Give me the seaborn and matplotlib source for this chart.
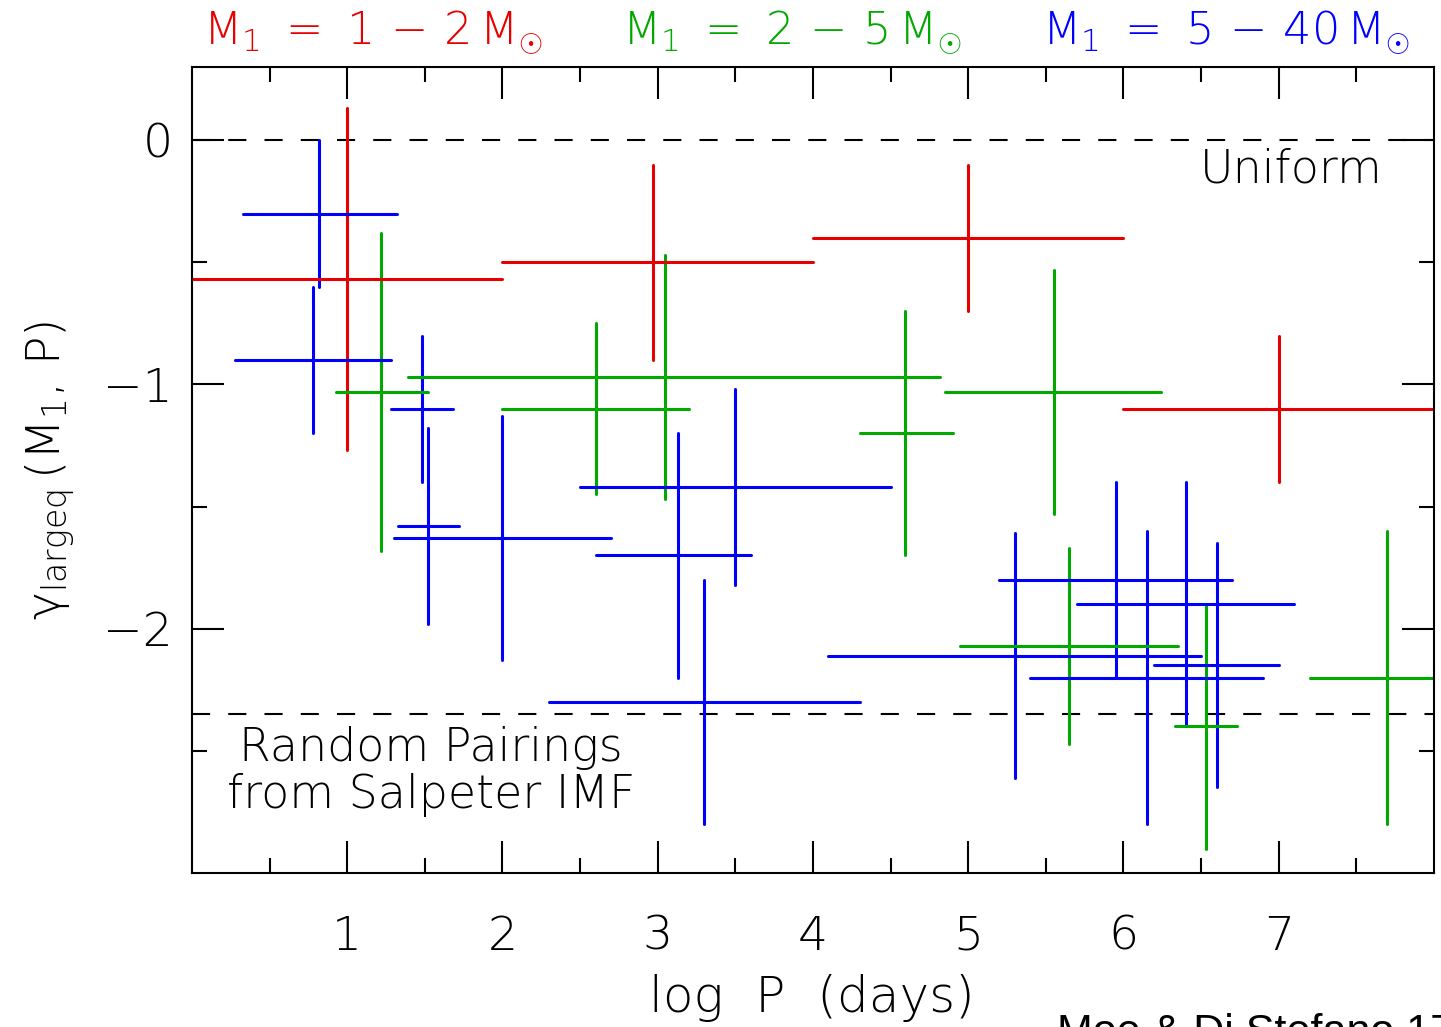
import numpy as np
import pandas as pd
import matplotlib
matplotlib.use("Agg")
import matplotlib.pyplot as plt
import seaborn as sns
import seaborn.objects as so

# ---- measurements: log P centre, bin edges, gamma and its uncertainty ----
# M1 = 1-2 Msun
red_logp = [1.00, 2.97, 5.00, 7.00]
red_logp_lo = [0.00, 2.00, 4.00, 6.00]
red_logp_hi = [2.00, 4.00, 6.00, 8.00]
red_gamma = [-0.57, -0.50, -0.40, -1.10]
red_gamma_err = [0.70, 0.40, 0.30, 0.30]

# M1 = 2-5 Msun
green_logp = [1.22, 2.60, 3.05, 4.59, 5.55, 5.65, 6.53, 7.70]
green_logp_lo = [0.93, 2.00, 1.39, 4.30, 4.85, 4.95, 6.33, 7.20]
green_logp_hi = [1.52, 3.20, 4.82, 4.90, 6.24, 6.35, 6.73, 8.00]
green_gamma = [-1.03, -1.10, -0.97, -1.20, -1.03, -2.07, -2.40, -2.20]
green_gamma_err = [0.65, 0.35, 0.50, 0.50, 0.50, 0.40, 0.50, 0.60]

# M1 = 5-40 Msun
blue_logp = [0.82, 0.78, 1.48, 1.52, 2.00, 3.13, 3.50, 3.30,
             5.30, 5.95, 6.15, 6.40, 6.60]
blue_logp_lo = [0.33, 0.28, 1.28, 1.33, 1.30, 2.60, 2.50, 2.30,
                4.10, 5.20, 5.40, 5.70, 6.20]
blue_logp_hi = [1.32, 1.28, 1.68, 1.72, 2.70, 3.60, 4.50, 4.30,
                6.50, 6.70, 6.90, 7.10, 7.00]
blue_gamma = [-0.30, -0.90, -1.10, -1.58, -1.63, -1.70, -1.42, -2.30,
              -2.11, -1.80, -2.20, -1.90, -2.15]
blue_gamma_err = [0.30, 0.30, 0.30, 0.40, 0.50, 0.50, 0.40, 0.50,
                  0.50, 0.40, 0.60, 0.50, 0.50]

mass_bins = ["1-2", "2-5", "5-40"]
bin_colors = {"1-2": "#e60000", "2-5": "#00a800", "5-40": "#0000ff"}
bin_titles = {"1-2": r"$\mathrm{M}_1\ =\ 1\,-\,2\,\mathrm{M}_{\odot}$",
              "2-5": r"$\mathrm{M}_1\ =\ 2\,-\,5\,\mathrm{M}_{\odot}$",
              "5-40": r"$\mathrm{M}_1\ =\ 5\,-\,40\,\mathrm{M}_{\odot}$"}

# reference slopes: uniform mass ratios and random pairings from a Salpeter IMF
uniform_level = 0.0
salpeter_level = -2.35

x_ticks = [1, 2, 3, 4, 5, 6, 7]
y_ticks = [0, -1, -2]
y_tick_labels = ["0", "\u22121", "\u22122"]

# ---- tidy table ----
frames = []
for name, lp, lo, hi, g, ge in [
    ("1-2", red_logp, red_logp_lo, red_logp_hi, red_gamma, red_gamma_err),
    ("2-5", green_logp, green_logp_lo, green_logp_hi, green_gamma, green_gamma_err),
    ("5-40", blue_logp, blue_logp_lo, blue_logp_hi, blue_gamma, blue_gamma_err),
]:
    g = np.asarray(g)
    ge = np.asarray(ge)
    frames.append(pd.DataFrame({
        "mass": name, "logp": lp, "logp_lo": lo, "logp_hi": hi,
        "gamma": g, "gamma_lo": g - ge, "gamma_hi": g + ge,
    }))
df = pd.concat(frames, ignore_index=True)
df["point"] = [f"p{i}" for i in range(len(df))]

# ---- style ----
FONT = ["DejaVu Sans", "Lato"]
WEIGHT = 200
sns.set_theme(style="white")
plt.rcParams["font.family"] = FONT
plt.rcParams["font.weight"] = WEIGHT
plt.rcParams["mathtext.fontset"] = "custom"
plt.rcParams["mathtext.rm"] = "DejaVu Sans:extralight"
plt.rcParams["mathtext.it"] = "DejaVu Sans:extralight"
plt.rcParams["mathtext.sf"] = "DejaVu Sans:extralight"
plt.rcParams["axes.unicode_minus"] = True

fig = plt.figure(figsize=(14.41, 10.27), dpi=100)
ax = fig.add_axes([0.1332, 0.150, 0.8619, 0.7848])

theme = dict(sns.axes_style("white"))
theme.update({"axes.facecolor": "white", "axes.grid": False,
              "xtick.bottom": True, "ytick.left": True,
              "font.family": FONT})

lw = 2.2
(
    so.Plot(df, color="mass", group="point")
    .add(so.Range(linewidth=lw), x="logp", ymin="gamma_lo", ymax="gamma_hi",
         legend=False)
    .add(so.Range(linewidth=lw), y="gamma", xmin="logp_lo", xmax="logp_hi",
         orient="y", legend=False)
    .scale(color=so.Nominal(bin_colors, order=mass_bins))
    .limit(x=(0, 8), y=(-3, 0.3))
    .theme(theme)
    .on(ax)
    .plot()
)

# reference lines
for level in (uniform_level, salpeter_level):
    ax.axhline(level, color="black", lw=1.5, dashes=(8.7, 8.7), zorder=0.5)

ax.set_xlim(0, 8)
ax.set_ylim(-3, 0.3)
ax.set_xlabel("")
ax.set_ylabel("")

ax.set_xticks(x_ticks)
ax.set_xticks(np.arange(0.5, 8, 1.0), minor=True)
ax.set_yticks(y_ticks)
ax.set_yticklabels(y_tick_labels)
ax.set_yticks([-0.5, -1.5, -2.5], minor=True)
ax.tick_params(which="both", direction="in", top=True, right=True,
               bottom=True, left=True,
               width=1.5, color="black", labelsize=34, labelcolor="black")
ax.tick_params(which="major", length=23)
ax.tick_params(which="minor", length=11)
ax.tick_params(axis="x", which="major", pad=30)
ax.tick_params(axis="y", which="major", pad=14)
for lab in ax.get_xticklabels() + ax.get_yticklabels():
    lab.set_fontweight(WEIGHT)
for s in ax.spines.values():
    s.set_linewidth(1.5)
    s.set_color("black")
    s.set_visible(True)

# annotations
ax.text(7.08, -0.12, "Uniform", ha="center", va="center", fontsize=33,
        color="black", fontweight=WEIGHT)
ax.text(1.54, -2.585, "Random Pairings\nfrom Salpeter IMF", ha="center",
        va="center", fontsize=33, color="black", linespacing=1.1,
        fontweight=WEIGHT)

for name, xc in zip(mass_bins, [0.2588, 0.5496, 0.8508]):
    fig.text(xc, 0.956, bin_titles[name], color=bin_colors[name],
             ha="center", va="baseline", fontsize=32)

fig.text(0.035, 0.542,
         r"$\mathrm{\gamma}_{\mathrm{largeq}}\,(\mathrm{M}_1,\,\mathrm{P})$",
         rotation=90, ha="center", va="center", fontsize=34, color="black")
fig.text(0.5635, 0.0146, "log  P  (days)", ha="center", va="baseline",
         fontsize=36, color="black", fontweight=WEIGHT)
fig.text(1057 / 1441, -0.0166, "Moe & Di Stefano 17", ha="left",
         va="baseline", fontsize=31, color="black", family="Liberation Sans")

fig.savefig("out.png", dpi=100)
